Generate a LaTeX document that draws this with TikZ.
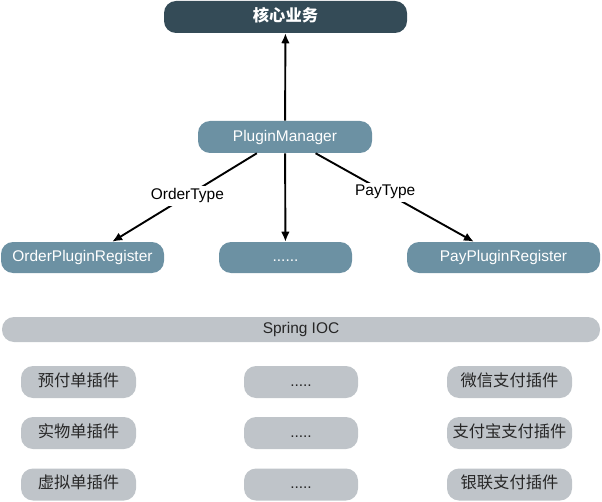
\documentclass[tikz,border=0pt]{standalone}
\usepackage{fontspec}
\setmainfont{Liberation Sans}
\newfontfamily\cjk{Noto Sans CJK SC}
\usepackage{tikz}
\usetikzlibrary{arrows.meta}
\definecolor{coredark}{HTML}{344B57}
\definecolor{regblue}{HTML}{6C91A3}
\definecolor{iocgrey}{HTML}{BFC4C9}

\begin{document}
\begin{tikzpicture}[x=.75pt, y=-.75pt,
  box/.style = {rounded corners=12pt*.75, inner sep=0, text height=8.5pt, text depth=2pt, font=\fontsize{11.6}{13}\selectfont},
  cn/.style = {font=\cjk\fontsize{12.2}{14}\selectfont},
  corebox/.style = {box, fill=coredark, text=white, minimum width=243*.75pt, minimum height=32*.75pt},
  regbox/.style = {box, fill=regblue, text=white, minimum height=31*.75pt},
  plugbox/.style = {box, fill=iocgrey, text=black!85, minimum height=32*.75pt},
  conn/.style = {line width=1.9pt*.75, -{Latex[length=7.5pt, width=6.5pt]}},
  lbl/.style = {fill=white, inner sep=2pt, font=\fontsize{11.6}{13}\selectfont}]
\useasboundingbox (0,0) rectangle (602,502);
\node[corebox, cn] (core) at (285.5,17) {\bfseries 核心业务};
\node[regbox, minimum width=174*.75pt, minimum height=32*.75pt] (pm) at (285,137) {PluginManager};
\node[regbox, minimum width=163*.75pt] (opr) at (82.5,257.5) {OrderPluginRegister};
\node[regbox, minimum width=133*.75pt] (dots) at (285.5,257.5) {......};
\node[regbox, minimum width=193*.75pt] (ppr) at (503.5,257.5) {PayPluginRegister};
\draw[conn] (pm) -- (core);
\draw[conn] (pm) -- (dots);
\draw[conn] (pm.210) -- node[lbl, pos=.48] {OrderType} (opr.28);
\draw[conn] (pm.332) -- node[lbl, pos=.44] {PayType} (ppr.152);
\node[plugbox, minimum width=598*.75pt, minimum height=25*.75pt] (ioc) at (301,329.5) {Spring IOC};
\node[plugbox, cn, minimum width=115*.75pt] (pre) at (78.5,382) {预付单插件};
\node[plugbox, cn, minimum width=115*.75pt] (real) at (78.5,433) {实物单插件};
\node[plugbox, cn, minimum width=115*.75pt] (virt) at (78.5,484.5) {虚拟单插件};
\node[plugbox, minimum width=114*.75pt] (mida) at (301,382) {.....};
\node[plugbox, minimum width=114*.75pt] (midb) at (301,433) {.....};
\node[plugbox, minimum width=114*.75pt] (midc) at (301,484.5) {.....};
\node[plugbox, cn, minimum width=125*.75pt] (wx) at (509.5,382) {微信支付插件};
\node[plugbox, cn, minimum width=125*.75pt] (ali) at (509.5,433) {支付宝支付插件};
\node[plugbox, cn, minimum width=125*.75pt] (up) at (509.5,484.5) {银联支付插件};
\end{tikzpicture}
\end{document}
